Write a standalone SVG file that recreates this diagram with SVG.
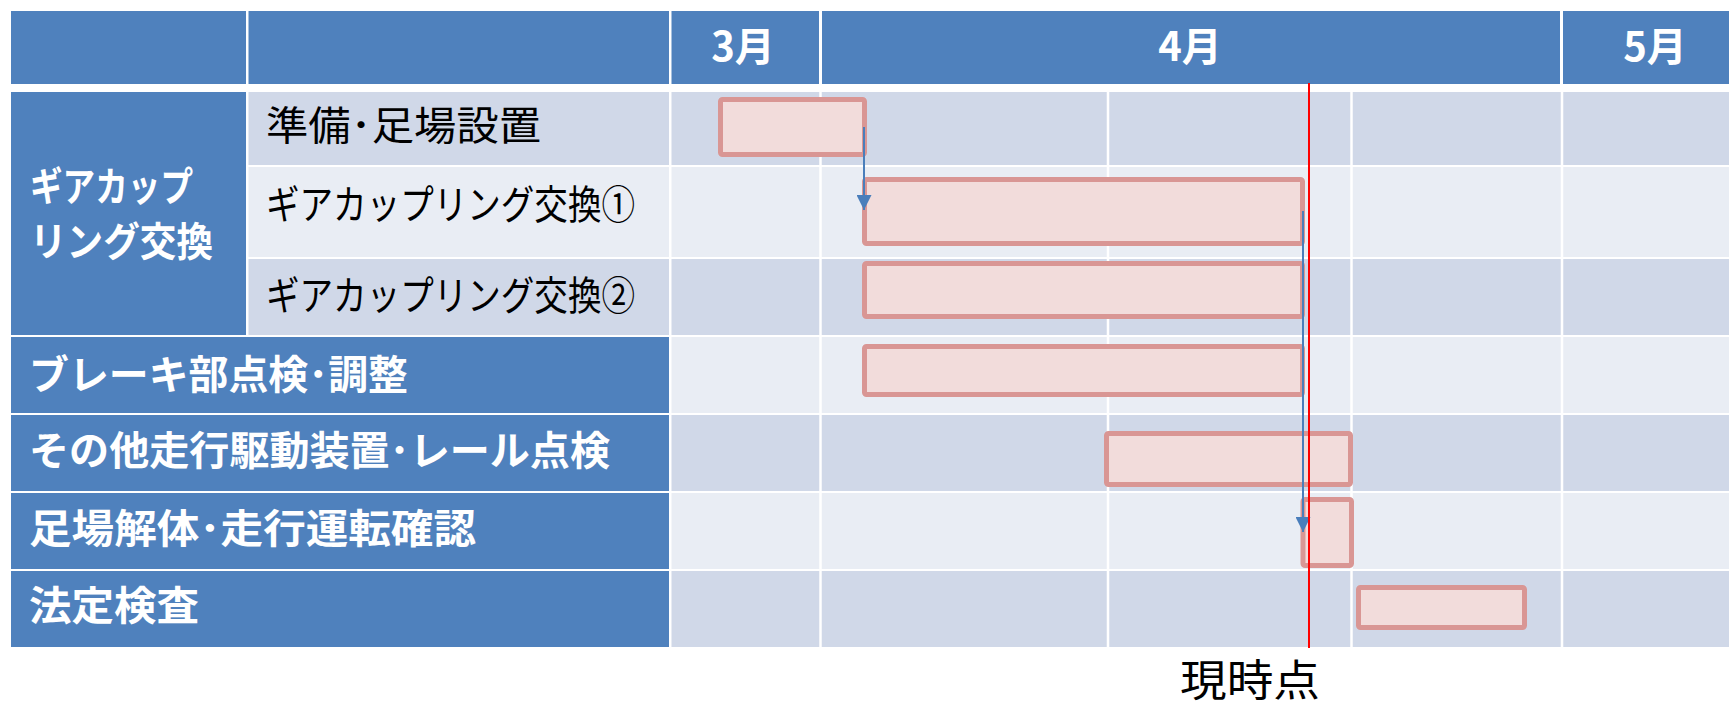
<svg xmlns="http://www.w3.org/2000/svg" width="1729" height="708" viewBox="0 0 1729 708">
<style>
.hd{fill:#4F81BD}
.dk{fill:#D0D8E8}
.lt{fill:#E9EDF4}
.grid{stroke:#FFFFFF;stroke-width:2.5}
.wt{font-family:"Noto Sans CJK JP","Noto Sans",sans-serif;font-weight:bold;fill:#FFFFFF;font-size:40px}
.bk{font-family:"Noto Sans CJK JP","Noto Sans",sans-serif;fill:#000000;font-size:40px}
.bar{fill:#F2DCDB;stroke:#D99694;stroke-width:5}
.dep{stroke:#4A7EBB;stroke-width:2;fill:none}
</style>
<defs>
<marker id="tri" markerUnits="userSpaceOnUse" markerWidth="15" markerHeight="15" viewBox="0 0 15 15" refX="15" refY="7.5" orient="auto">
<path d="M0,0 L15,7.5 L0,15 Z" fill="#4A7EBB"/>
</marker>
</defs>
<rect x="0" y="0" width="1729" height="708" fill="#FFFFFF"/>

<g id="header">
<rect class="hd" x="11" y="11" width="235" height="73"/>
<rect class="hd" x="248.5" y="11" width="420.5" height="73"/>
<rect class="hd" x="671.5" y="11" width="147.5" height="73"/>
<rect class="hd" x="822" y="11" width="738" height="73"/>
<rect class="hd" x="1563" y="11" width="166" height="73"/>
<text class="wt" x="743" y="61" text-anchor="middle">3月</text>
<text class="wt" x="1190" y="61" text-anchor="middle">4月</text>
<text class="wt" x="1655" y="61" text-anchor="middle">5月</text>
</g>

<g id="chart-rows">
<rect class="dk" x="671.5" y="92" width="1057.5" height="73"/>
<rect class="lt" x="671.5" y="167" width="1057.5" height="90"/>
<rect class="dk" x="671.5" y="259" width="1057.5" height="76"/>
<rect class="lt" x="671.5" y="337" width="1057.5" height="76"/>
<rect class="dk" x="671.5" y="415" width="1057.5" height="76"/>
<rect class="lt" x="671.5" y="493" width="1057.5" height="76"/>
<rect class="dk" x="671.5" y="571" width="1057.5" height="76"/>
<line class="grid" x1="820.5" y1="92" x2="820.5" y2="647"/>
<line class="grid" x1="1108" y1="92" x2="1108" y2="647"/>
<line class="grid" x1="1351.5" y1="92" x2="1351.5" y2="647"/>
<line class="grid" x1="1562" y1="92" x2="1562" y2="647"/>
</g>

<g id="group-gear">
<rect class="hd" x="11" y="92" width="235" height="243"/>
<text class="wt" font-size="33"><tspan x="30" y="201" textLength="163" lengthAdjust="spacingAndGlyphs">ギアカップ</tspan><tspan x="30" y="256" textLength="183" lengthAdjust="spacingAndGlyphs">リング交換</tspan></text>
</g>

<g id="task-prep">
<rect class="dk" x="248.5" y="92" width="420.5" height="73"/>
<text class="bk" x="266" y="140" textLength="275" lengthAdjust="spacingAndGlyphs">準備･足場設置</text>
</g>
<g id="task-gear1">
<rect class="lt" x="248.5" y="167" width="420.5" height="90"/>
<text class="bk" x="266" y="219" textLength="369" lengthAdjust="spacingAndGlyphs">ギアカップリング交換①</text>
</g>
<g id="task-gear2">
<rect class="dk" x="248.5" y="259" width="420.5" height="76"/>
<text class="bk" x="266" y="310" textLength="369" lengthAdjust="spacingAndGlyphs">ギアカップリング交換②</text>
</g>
<g id="task-brake">
<rect class="hd" x="11" y="337" width="658" height="76"/>
<text class="wt" x="29" y="389" textLength="379" lengthAdjust="spacingAndGlyphs">ブレーキ部点検･調整</text>
</g>
<g id="task-other">
<rect class="hd" x="11" y="415" width="658" height="76"/>
<text class="wt" x="29" y="465" textLength="581" lengthAdjust="spacingAndGlyphs">その他走行駆動装置･レール点検</text>
</g>
<g id="task-dismantle">
<rect class="hd" x="11" y="493" width="658" height="76"/>
<text class="wt" x="29" y="543" textLength="447" lengthAdjust="spacingAndGlyphs">足場解体･走行運転確認</text>
</g>
<g id="task-inspection">
<rect class="hd" x="11" y="571" width="658" height="76"/>
<text class="wt" x="29" y="620" textLength="170" lengthAdjust="spacingAndGlyphs">法定検査</text>
</g>

<g id="bars">
<rect id="bar-prep" class="bar" x="720.5" y="99.5" width="144" height="55" rx="2"/>
<rect id="bar-gear1" class="bar" x="864.5" y="179.5" width="438" height="64" rx="2"/>
<rect id="bar-gear2" class="bar" x="864.5" y="263.5" width="438" height="53" rx="2"/>
<rect id="bar-brake" class="bar" x="864.5" y="346.5" width="438" height="48" rx="2"/>
<rect id="bar-other" class="bar" x="1106.5" y="433.5" width="244" height="51" rx="2"/>
<rect id="bar-dismantle" class="bar" x="1303" y="499.5" width="48.5" height="66" rx="2"/>
<rect id="bar-inspection" class="bar" x="1358.5" y="587.5" width="166" height="40" rx="2"/>
</g>

<g id="connectors">
<line class="dep" x1="864" y1="127" x2="864" y2="210" marker-end="url(#tri)"/>
<line class="dep" x1="1303" y1="211" x2="1303" y2="532" marker-end="url(#tri)"/>
</g>

<g id="now-line">
<line x1="1309" y1="83" x2="1309" y2="648" stroke="#FF0000" stroke-width="2"/>
<text x="1250" y="696" text-anchor="middle" font-family="'Noto Sans CJK JP','Noto Sans',sans-serif" font-size="43" fill="#000000" textLength="140" lengthAdjust="spacingAndGlyphs">現時点</text>
</g>
</svg>
